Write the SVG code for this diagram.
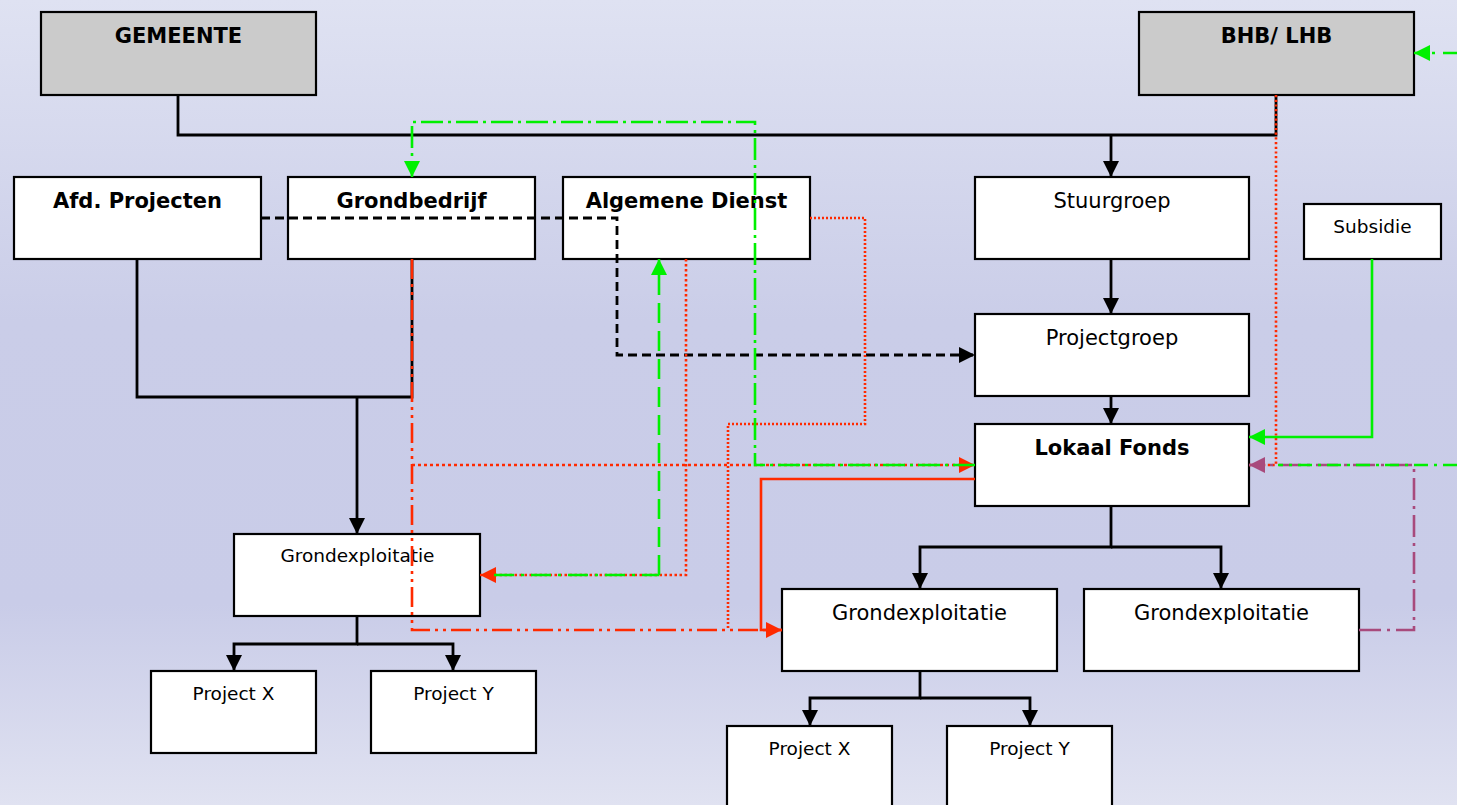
<svg xmlns="http://www.w3.org/2000/svg" width="1457" height="805" viewBox="0 0 1457 805">
<defs>
<linearGradient id="bg" x1="0" y1="0" x2="0" y2="1">
<stop offset="0" stop-color="#dfe2f2"/>
<stop offset="0.4" stop-color="#cacde8"/>
<stop offset="0.75" stop-color="#c9cce8"/>
<stop offset="1" stop-color="#e0e2f1"/>
</linearGradient>
<marker id="ab" markerUnits="userSpaceOnUse" markerWidth="16" markerHeight="16" refX="16" refY="8" orient="auto"><path d="M0,0 L16,8 L0,16 z" fill="#000"/></marker>
<marker id="ar" markerUnits="userSpaceOnUse" markerWidth="16" markerHeight="16" refX="16" refY="8" orient="auto"><path d="M0,0 L16,8 L0,16 z" fill="#ff2a00"/></marker>
<marker id="ag" markerUnits="userSpaceOnUse" markerWidth="16" markerHeight="16" refX="16" refY="8" orient="auto"><path d="M0,0 L16,8 L0,16 z" fill="#00f000"/></marker>
<marker id="ap" markerUnits="userSpaceOnUse" markerWidth="16" markerHeight="16" refX="16" refY="8" orient="auto"><path d="M0,0 L16,8 L0,16 z" fill="#a84a7c"/></marker>
</defs>
<style>
.box{fill:#fff;stroke:#000;stroke-width:2.2}
.gray{fill:#cbcbcb;stroke:#000;stroke-width:2.2}
.t{font-family:"DejaVu Sans","Verdana",sans-serif;text-anchor:middle;fill:#000}
.b{font-weight:bold;font-size:21px}
.m{font-size:21px}
.s{font-size:18.5px}
.ln{fill:none;stroke-width:2.6}
.blk{stroke:#000;stroke-width:2.8}
.red{stroke:#ff2a00}
.grn{stroke:#00f000}
.pur{stroke:#a84a7c}
</style>
<rect x="0" y="0" width="1457" height="805" fill="url(#bg)"/>

<g id="node-gemeente"><rect class="gray" x="41" y="12" width="275" height="83"/><text class="t b" x="178.5" y="43">GEMEENTE</text></g>
<g id="node-bhb"><rect class="gray" x="1139" y="12" width="275" height="83"/><text class="t b" x="1276.5" y="43">BHB/ LHB</text></g>
<g id="node-afd"><rect class="box" x="14" y="177" width="247" height="82"/><text class="t b" x="137.5" y="208">Afd. Projecten</text></g>
<g id="node-grondbedrijf"><rect class="box" x="288" y="177" width="247" height="82"/><text class="t b" x="411.5" y="208">Grondbedrijf</text></g>
<g id="node-algemene"><rect class="box" x="563" y="177" width="247" height="82"/><text class="t b" x="686.5" y="208">Algemene Dienst</text></g>
<g id="node-stuurgroep"><rect class="box" x="975" y="177" width="274" height="82"/><text class="t m" x="1112" y="208">Stuurgroep</text></g>
<g id="node-subsidie"><rect class="box" x="1304" y="204" width="137" height="55"/><text class="t s" x="1372.5" y="233">Subsidie</text></g>
<g id="node-projectgroep"><rect class="box" x="975" y="314" width="274" height="82"/><text class="t m" x="1112" y="345">Projectgroep</text></g>
<g id="node-lokaal"><rect class="box" x="975" y="424" width="274" height="82"/><text class="t b" x="1112" y="455">Lokaal Fonds</text></g>
<g id="node-gex-left"><rect class="box" x="234" y="534" width="246" height="82"/><text class="t s" x="357.5" y="562">Grondexploitatie</text></g>
<g id="node-px-left"><rect class="box" x="151" y="671" width="165" height="82"/><text class="t s" x="233.5" y="700">Project X</text></g>
<g id="node-py-left"><rect class="box" x="371" y="671" width="165" height="82"/><text class="t s" x="453.5" y="700">Project Y</text></g>
<g id="node-gex-mid"><rect class="box" x="782" y="589" width="275" height="82"/><text class="t m" x="919.5" y="620">Grondexploitatie</text></g>
<g id="node-gex-right"><rect class="box" x="1084" y="589" width="275" height="82"/><text class="t m" x="1221.5" y="620">Grondexploitatie</text></g>
<g id="node-px-mid"><rect class="box" x="727" y="726" width="165" height="90"/><text class="t s" x="809.5" y="755">Project X</text></g>
<g id="node-py-mid"><rect class="box" x="947" y="726" width="165" height="90"/><text class="t s" x="1029.5" y="755">Project Y</text></g>

<g id="connectors">
<!-- black solid -->
<path class="ln blk" d="M178,95 V135 H1276 V95"/>
<path class="ln blk" d="M1111,135 V177" marker-end="url(#ab)"/>
<path class="ln blk" d="M1111,259 V314" marker-end="url(#ab)"/>
<path class="ln blk" d="M1111,396 V424" marker-end="url(#ab)"/>
<path class="ln blk" d="M1111,506 V547 H920 V589" marker-end="url(#ab)"/>
<path class="ln blk" d="M1111,547 H1221 V589" marker-end="url(#ab)"/>
<path class="ln blk" d="M920,671 V698 H810 V726" marker-end="url(#ab)"/>
<path class="ln blk" d="M920,698 H1030 V726" marker-end="url(#ab)"/>
<path class="ln blk" d="M137,259 V397 H412 V259"/>
<path class="ln blk" d="M357,397 V534" marker-end="url(#ab)"/>
<path class="ln blk" d="M357,616 V644 H234 V671" marker-end="url(#ab)"/>
<path class="ln blk" d="M357,644 H453 V671" marker-end="url(#ab)"/>
<!-- black dashed -->
<path class="ln blk" stroke-dasharray="9 5" d="M261,218 H617 V355 H975" marker-end="url(#ab)"/>
<!-- red -->
<path class="ln red" stroke-width="2.2" stroke-dasharray="2.2 2.5" d="M1276,95 V465 H1249"/>
<path class="ln red" stroke-width="1.6" stroke-dasharray="2 2" d="M810,218 H865 V424 H728 V630"/>
<path class="ln red" stroke-dasharray="20 5 3 5 3 5" d="M412,259 V630 H782"/>
<path class="ln red" stroke-width="2.8" stroke-dasharray="3 3" d="M412,465 H975" marker-end="url(#ar)"/>
<path class="ln red" stroke-width="2.2" stroke-dasharray="2.5 2.5" d="M686,259 V575 H480" marker-end="url(#ar)"/>
<path class="ln red" stroke-width="3" d="M975,479 H761 V630 H782" marker-end="url(#ar)"/>
<!-- purple -->
<path class="ln pur" stroke-dasharray="22 6 3 6" d="M1359,630 H1414 V465 H1249" marker-end="url(#ap)"/>
<!-- green -->
<path class="ln grn" stroke-dasharray="22 5 3 5" d="M975,465 H755 V122 H412 V177" marker-end="url(#ag)"/>
<path class="ln grn" stroke-width="3" stroke-dasharray="20 7 3 7" d="M494,575 H659"/>
<path class="ln grn" stroke-width="3" stroke-dasharray="20 8" d="M659,575 V259" marker-end="url(#ag)"/>
<path class="ln grn" d="M1372,259 V437 H1249" marker-end="url(#ag)"/>
<path class="ln grn" stroke-dasharray="14 6 3 6" d="M1457,465 H1278"/>
<path class="ln grn" stroke-dasharray="14 8 3 8" d="M1457,53 H1414" marker-end="url(#ag)"/>
</g>
</svg>
